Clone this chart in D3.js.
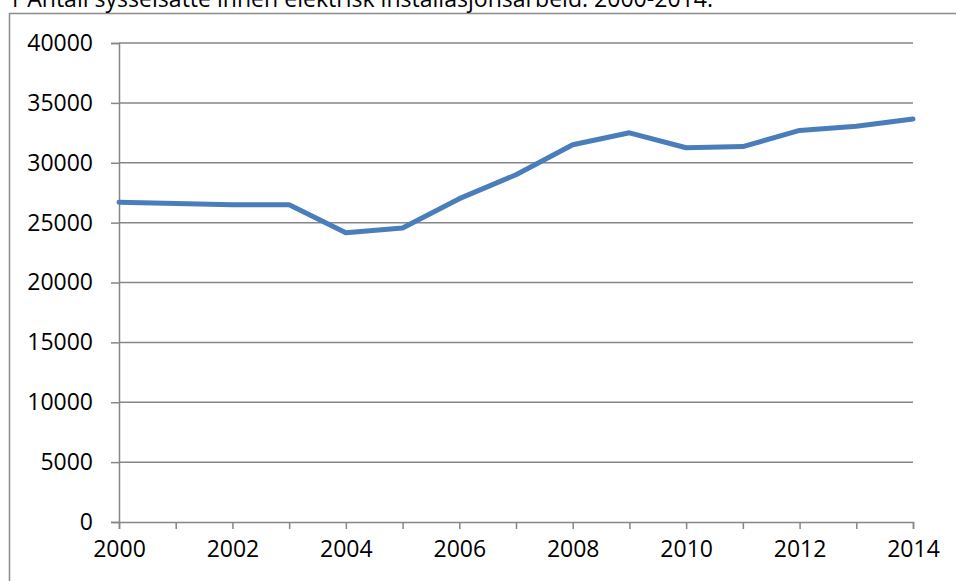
<!DOCTYPE html>
<html>
<head>
<meta charset="utf-8">
<script src="https://cdn.jsdelivr.net/npm/d3@7"></script>
<style>
  html, body { margin: 0; padding: 0; background: #fff; overflow: hidden; }
  svg { display: block; }
  text { font-family: "Open Sans", "Noto Sans", sans-serif; fill: #000; }
</style>
</head>
<body>
<svg id="chart" width="956" height="581"></svg>
<script>
// Employment in electrical installation work, 2000-2014
const titleText = "1 Antall sysselsatte innen elektrisk installasjonsarbeid. 2000-2014.";
const years = [2000, 2001, 2002, 2003, 2004, 2005, 2006, 2007, 2008, 2009, 2010, 2011, 2012, 2013, 2014];
const employed = [26700, 26600, 26500, 26500, 24150, 24550, 27000, 29000, 31500, 32500, 31250, 31350, 32700, 33050, 33650];
const yTicks = [0, 5000, 10000, 15000, 20000, 25000, 30000, 35000, 40000];
const xLabelYears = [2000, 2002, 2004, 2006, 2008, 2010, 2012, 2014];

const svg = d3.select("#chart");
const W = 956, H = 581;
const plot = { left: 119, right: 913, top: 43, bottom: 522 };
const gridColor = "#868686";

// outer frame of the chart area
svg.append("path")
  .attr("d", `M9.5,${H} V13.5 H${W}`)
  .attr("fill", "none")
  .attr("stroke", "#8c8c8c")
  .attr("stroke-width", 1.5);

// caption, partly cut by the top edge
const title = svg.append("text")
  .attr("x", 8)
  .attr("y", 7)
  .attr("font-size", 23)
  .text(titleText);
const tl = title.node().getComputedTextLength();
if (tl > 0) title.attr("textLength", 705).attr("lengthAdjust", "spacingAndGlyphs");

const x = d3.scaleLinear().domain([2000, 2014]).range([plot.left, plot.right]);
const y = d3.scaleLinear().domain([0, 40000]).range([plot.bottom, plot.top]);

// horizontal gridlines
svg.append("g")
  .selectAll("line")
  .data(yTicks.filter(d => d > 0))
  .join("line")
  .attr("x1", plot.left).attr("x2", plot.right)
  .attr("y1", d => y(d)).attr("y2", d => y(d))
  .attr("stroke", gridColor)
  .attr("stroke-width", 1.5);

// y axis
const yAxis = svg.append("g")
  .attr("transform", `translate(${plot.left},0)`)
  .call(d3.axisLeft(y).tickValues(yTicks).tickSize(8).tickPadding(18).tickFormat(d3.format("d")));
yAxis.select(".domain").attr("stroke", gridColor).attr("stroke-width", 1.5);
yAxis.selectAll(".tick line").attr("stroke", gridColor).attr("stroke-width", 1.5);
yAxis.selectAll("text")
  .attr("font-size", 23)
  .attr("font-family", "\"Open Sans\", sans-serif")
  .attr("fill", "#000");

// x axis: a tick every year, labels every second year
const xAxis = svg.append("g")
  .attr("transform", `translate(0,${plot.bottom})`)
  .call(d3.axisBottom(x).tickValues(years).tickSize(7).tickPadding(12)
    .tickFormat(d => xLabelYears.includes(d) ? String(d) : ""));
xAxis.select(".domain").attr("stroke", gridColor).attr("stroke-width", 1.5);
xAxis.selectAll(".tick line").attr("stroke", gridColor).attr("stroke-width", 1.5);
xAxis.selectAll("text")
  .attr("font-size", 23)
  .attr("font-family", "\"Open Sans\", sans-serif")
  .attr("fill", "#000");

// data line
const line = d3.line()
  .x((d, i) => x(years[i]))
  .y(d => y(d));
svg.append("path")
  .datum(employed)
  .attr("d", line)
  .attr("fill", "none")
  .attr("stroke", "#4a7ebb")
  .attr("stroke-width", 5)
  .attr("stroke-linejoin", "round")
  .attr("stroke-linecap", "round");
</script>
</body>
</html>
